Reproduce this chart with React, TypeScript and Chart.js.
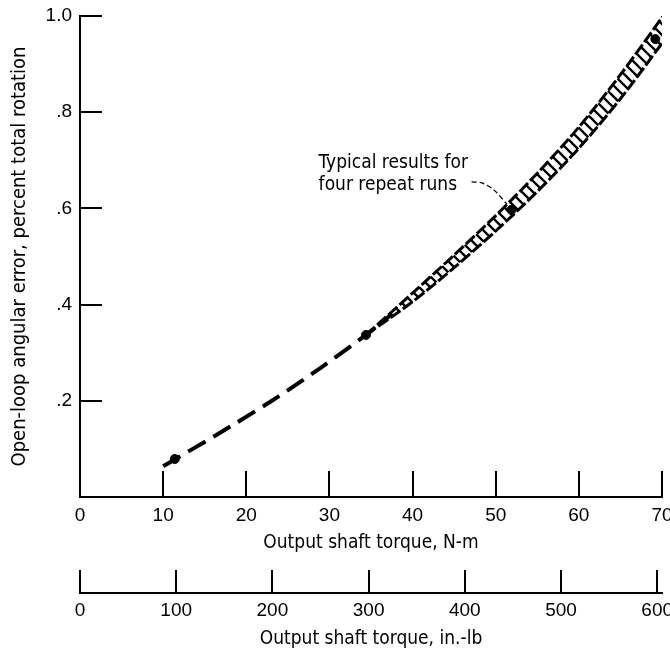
import React, { useEffect, useRef } from 'react';
import { Chart, registerables } from 'chart.js';

Chart.register(...registerables);

// Dashed single curve (low-torque part)
const LINE_X = [10, 16.4, 22.9, 28.9, 34.4, 37.5];
const LINE_Y = [0.064, 0.129, 0.198, 0.268, 0.337, 0.38];

// Hatched band (four repeat runs)
const BAND_X = [34.4, 40, 45, 50, 55, 60, 65, 70.3];
const BAND_UPPER = [0.337, 0.424, 0.503, 0.585, 0.673, 0.769, 0.878, 1.004];
const BAND_LOWER = [0.337, 0.406, 0.477, 0.553, 0.635, 0.725, 0.828, 0.95];

// Solid dots
const DOT_X = [11.4, 34.4, 51.9, 69.2];
const DOT_Y = [0.079, 0.337, 0.597, 0.952];

// Leader line for the note
const LEADER_X = [47.1, 48.35, 49.8, 51.35];
const LEADER_Y = [0.655, 0.653, 0.638, 0.609];

const NOTE_LINES = ['Typical results for', 'four repeat runs'];
const NOTE_X = 28.7;
const NOTE_Y = [0.694, 0.649];

const NM_TICKS = [0, 10, 20, 30, 40, 50, 60, 70];
const INLB_TICKS = [0, 100, 200, 300, 400, 500, 600];
const Y_TICKS = [0, 0.2, 0.4, 0.6, 0.8, 1.0];
const Y_LABELS = ['', '.2', '.4', '.6', '.8', '1.0'];

const X_TITLE = 'Output shaft torque, N-m';
const X2_TITLE = 'Output shaft torque, in.-lb';
const Y_TITLE = 'Open-loop angular error, percent total rotation';

const TICK_FONT = { family: '"Liberation Sans Narrow", "Arial Narrow", sans-serif', size: 19 };
const TITLE_FAMILY = '"DejaVu Sans Condensed", "DejaVu Sans", sans-serif';
const TITLE_FONT = { family: TITLE_FAMILY, size: 19 };
const Y_TITLE_FONT = { family: TITLE_FAMILY, size: 20 };

const zip = (xs: number[], ys: number[]) => xs.map((x, i) => ({ x, y: ys[i] }));

const resetPad = (s: any) => {
  s.paddingLeft = 0;
  s.paddingRight = 0;
  s.paddingTop = 0;
  s.paddingBottom = 0;
};

export default function App() {
  const ref = useRef<HTMLCanvasElement>(null);

  useEffect(() => {
    const canvas = ref.current;
    if (!canvas) return;
    const ctx = canvas.getContext('2d')!;

    // hatch pattern for band
    const pc = document.createElement('canvas');
    const S = 11;
    pc.width = S;
    pc.height = S;
    const g = pc.getContext('2d')!;
    g.strokeStyle = '#000';
    g.lineWidth = 2.3;
    g.beginPath();
    g.moveTo(-2, -2);
    g.lineTo(S + 2, S + 2);
    g.moveTo(-2, S - 2);
    g.lineTo(2, S + 2);
    g.moveTo(S - 2, -2);
    g.lineTo(S + 2, 2);
    g.stroke();
    const hatch = ctx.createPattern(pc, 'repeat')!;

    const notePlugin = {
      id: 'note',
      afterDatasetsDraw(chart: any) {
        const c = chart.ctx;
        const xs = chart.scales.x;
        const ys = chart.scales.y;
        c.save();
        c.font = `19px ${TITLE_FAMILY}`;
        c.fillStyle = '#000';
        c.textAlign = 'left';
        c.textBaseline = 'middle';
        NOTE_LINES.forEach((t, i) => c.fillText(t, xs.getPixelForValue(NOTE_X), ys.getPixelForValue(NOTE_Y[i])));
        c.restore();
      },
    };

    const chart = new Chart(canvas, {
      type: 'scatter',
      data: {
        datasets: [
          {
            data: zip(LINE_X, LINE_Y),
            showLine: true,
            borderColor: '#000',
            borderWidth: 4,
            borderDash: [20, 9],
            pointRadius: 0,
            tension: 0.3,
            xAxisID: 'x',
            yAxisID: 'y',
          },
          {
            data: zip(BAND_X, BAND_UPPER),
            showLine: true,
            borderColor: '#000',
            borderWidth: 3,
            borderDash: [12, 3],
            backgroundColor: hatch as any,
            fill: '+1',
            pointRadius: 0,
            tension: 0.3,
            xAxisID: 'x',
            yAxisID: 'y',
          },
          {
            data: zip(BAND_X, BAND_LOWER),
            showLine: true,
            borderColor: '#000',
            borderWidth: 3,
            borderDash: [12, 3],
            pointRadius: 0,
            tension: 0.3,
            xAxisID: 'x',
            yAxisID: 'y',
          },
          {
            data: zip(DOT_X, DOT_Y),
            showLine: false,
            pointRadius: 4.5,
            pointBackgroundColor: '#000',
            pointBorderColor: '#000',
            xAxisID: 'x',
            yAxisID: 'y',
          },
          {
            data: zip(LEADER_X, LEADER_Y),
            showLine: true,
            borderColor: '#000',
            borderWidth: 1.3,
            borderDash: [5, 3],
            pointRadius: 0,
            tension: 0.3,
            xAxisID: 'x',
            yAxisID: 'y',
          },
        ],
      },
      options: {
        animation: false,
        responsive: false,
        maintainAspectRatio: false,
        events: [],
        layout: { padding: { top: 16, right: 8, bottom: 0, left: 0 } },
        plugins: { legend: { display: false }, tooltip: { enabled: false } },
        scales: {
          x: {
            type: 'linear',
            position: 'bottom',
            weight: 0,
            min: 0,
            max: 70,
            afterBuildTicks: (s: any) => {
              s.ticks = NM_TICKS.map((v) => ({ value: v }));
            },
            afterFit: (s: any) => {
              s.height = 96;
              resetPad(s);
            },
            border: { color: '#000', width: 2 },
            grid: { drawOnChartArea: false, drawTicks: true, tickLength: -26, color: '#000', lineWidth: 2 },
            ticks: {
              color: '#000',
              font: TICK_FONT,
              padding: 33,
              maxRotation: 0,
              autoSkip: false,
              callback: (v: any) => String(v),
            },
            title: { display: true, text: X_TITLE, color: '#000', font: TITLE_FONT, padding: { top: 0, bottom: 39 } },
          },
          x2: {
            type: 'linear',
            axis: 'x',
            position: 'bottom',
            weight: 1,
            min: 0,
            max: 605,
            afterBuildTicks: (s: any) => {
              s.ticks = INLB_TICKS.map((v) => ({ value: v }));
            },
            afterFit: (s: any) => {
              s.height = 57;
              resetPad(s);
            },
            border: { color: '#000', width: 2 },
            grid: { drawOnChartArea: false, drawTicks: true, tickLength: -23, color: '#000', lineWidth: 2 },
            ticks: {
              color: '#000',
              font: TICK_FONT,
              padding: 29,
              maxRotation: 0,
              autoSkip: false,
              callback: (v: any) => String(v),
            },
            title: { display: true, text: X2_TITLE, color: '#000', font: TITLE_FONT, padding: { top: 0, bottom: 0 } },
          },
          y: {
            type: 'linear',
            position: 'left',
            min: 0,
            max: 1,
            afterBuildTicks: (s: any) => {
              s.ticks = Y_TICKS.map((v) => ({ value: v }));
            },
            afterFit: (s: any) => {
              s.width = 80;
              resetPad(s);
            },
            border: { color: '#000', width: 2 },
            grid: { drawOnChartArea: false, drawTicks: true, tickLength: -22, color: '#000', lineWidth: 2 },
            ticks: {
              color: '#000',
              font: TICK_FONT,
              padding: 30,
              autoSkip: false,
              callback: (v: any) => {
                const i = Y_TICKS.indexOf(v);
                return i > 0 ? Y_LABELS[i] : null;
              },
            },
            title: { display: true, text: Y_TITLE, color: '#000', font: Y_TITLE_FONT, padding: { top: 8, bottom: 0 } },
          },
        },
      },
      plugins: [notePlugin],
    } as any);

    return () => chart.destroy();
  }, []);

  return (
    <div style={{ position: 'absolute', left: 0, top: 0, width: 670, height: 650, background: '#fff' }}>
      <canvas ref={ref} width={670} height={650} style={{ display: 'block' }} />
    </div>
  );
}
